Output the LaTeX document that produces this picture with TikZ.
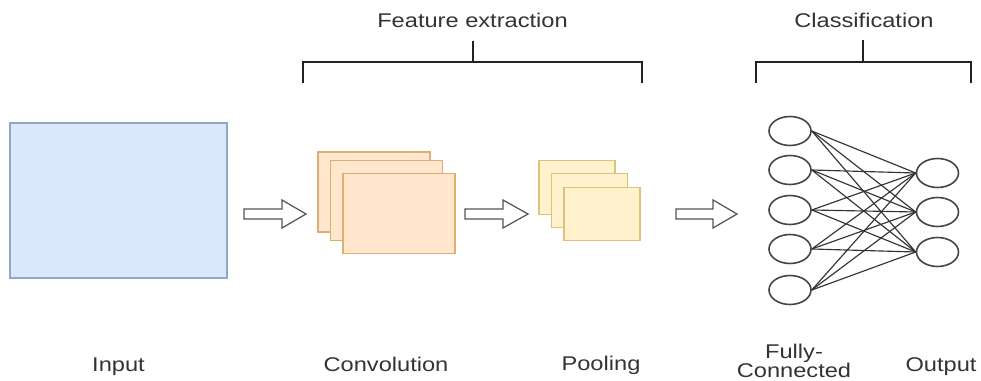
\documentclass[tikz,border=0pt]{standalone}
\usepackage{fontspec}
\setmainfont{Liberation Sans}
\usetikzlibrary{shapes.geometric}
\definecolor{txt}{HTML}{333333}
\definecolor{inb}{HTML}{8FA8C8}
\definecolor{inf}{HTML}{DAE8FC}
\definecolor{cvb}{HTML}{DDB070}
\definecolor{cvf}{HTML}{FFE6CC}
\definecolor{plb}{HTML}{DCC27A}
\definecolor{plf}{HTML}{FFF2CC}
\definecolor{nrn}{HTML}{444444}
\definecolor{lnk}{HTML}{333333}
\definecolor{brk}{HTML}{222222}
\definecolor{arw}{HTML}{555555}
\newcommand\stretchtxt[1]{\scalebox{1.19}[1]{#1}}
\newcommand\blockarr[4]{% name, x start, x head, x end ; centre y fixed
  \draw[blockarrow] (#2,209) -- (#3,209) -- (#3,200) -- (#4,214) -- (#3,228) -- (#3,219) -- (#2,219) -- cycle;}
\begin{document}
\begin{tikzpicture}[x=0.02cm,y=-0.02cm,
  lbl/.style={text=txt, inner sep=0pt, anchor=base, font=\fontsize{11.3}{13}\selectfont},
  inbox/.style={draw=inb, fill=inf, line width=0.8pt, minimum width=4.34cm, minimum height=3.1cm, inner sep=0pt},
  convbox/.style={draw=cvb, fill=cvf, line width=0.8pt, minimum width=2.24cm, minimum height=1.6cm, inner sep=0pt},
  poolbox/.style={draw=plb, fill=plf, line width=0.8pt, minimum width=1.52cm, minimum height=1.07cm, inner sep=0pt},
  neuron/.style={ellipse, draw=nrn, fill=white, line width=0.9pt, minimum width=0.84cm, minimum height=0.58cm, inner sep=0pt},
  link/.style={draw=lnk, line width=0.65pt},
  brace/.style={draw=brk, line width=1.1pt},
  blockarrow/.style={draw=arw, fill=white, line width=0.7pt, line join=miter}]
\useasboundingbox[fill=white] (0,0) rectangle (981,381);

% input
\node[inbox] (input) at (118.5,200.5) {};

% convolution stack
\node[convbox] (c1) at (374,192) {};
\node[convbox] (c2) at (386.5,200.5) {};
\node[convbox] (c3) at (399,213.5) {};

% pooling stack
\node[poolbox] (p1) at (577,187.5) {};
\node[poolbox] (p2) at (589.5,200.5) {};
\node[poolbox] (p3) at (602,214) {};

% block arrows
\blockarr{a1}{244}{282}{306}
\blockarr{a2}{465}{503}{528}
\blockarr{a3}{676}{713}{737}

% neurons
\foreach \i/\y in {1/131,2/170,3/210,4/249,5/290}
  \node[neuron] (i\i) at (790,\y) {};
\foreach \j/\y in {1/173,2/212,3/252}
  \node[neuron] (o\j) at (937.5,\y) {};
\foreach \i in {1,...,5}
  \foreach \j in {1,2,3}
    \draw[link] (i\i.east) -- (o\j.west);

% brackets
\coordinate (fl) at (303,83);
\coordinate (fr) at (642,83);
\coordinate (ft) at (473,41);
\draw[brace] (fl) -- (303,62) -- (642,62) -- (fr);
\draw[brace] (ft) -- (473,62);
\coordinate (cl) at (756,83);
\coordinate (cr) at (971,83);
\coordinate (ct) at (863,40);
\draw[brace] (cl) -- (756,62) -- (971,62) -- (cr);
\draw[brace] (ct) -- (863,62);

% labels
\node[lbl] (tfe) at (472.5,27.3) {\stretchtxt{Feature extraction}};
\node[lbl] (tcl) at (864,27.3) {\stretchtxt{Classification}};
\node[lbl] (tin) at (118.5,372) {\stretchtxt{Input}};
\node[lbl] (tcv) at (386,372) {\stretchtxt{Convolution}};
\node[lbl] (tpo) at (601,371) {\stretchtxt{Pooling}};
\node[lbl] (tfc1) at (794,359) {\stretchtxt{Fully-}};
\node[lbl] (tfc2) at (794,378) {\stretchtxt{Connected}};
\node[lbl] (tou) at (941,372) {\stretchtxt{Output}};
\end{tikzpicture}
\end{document}
